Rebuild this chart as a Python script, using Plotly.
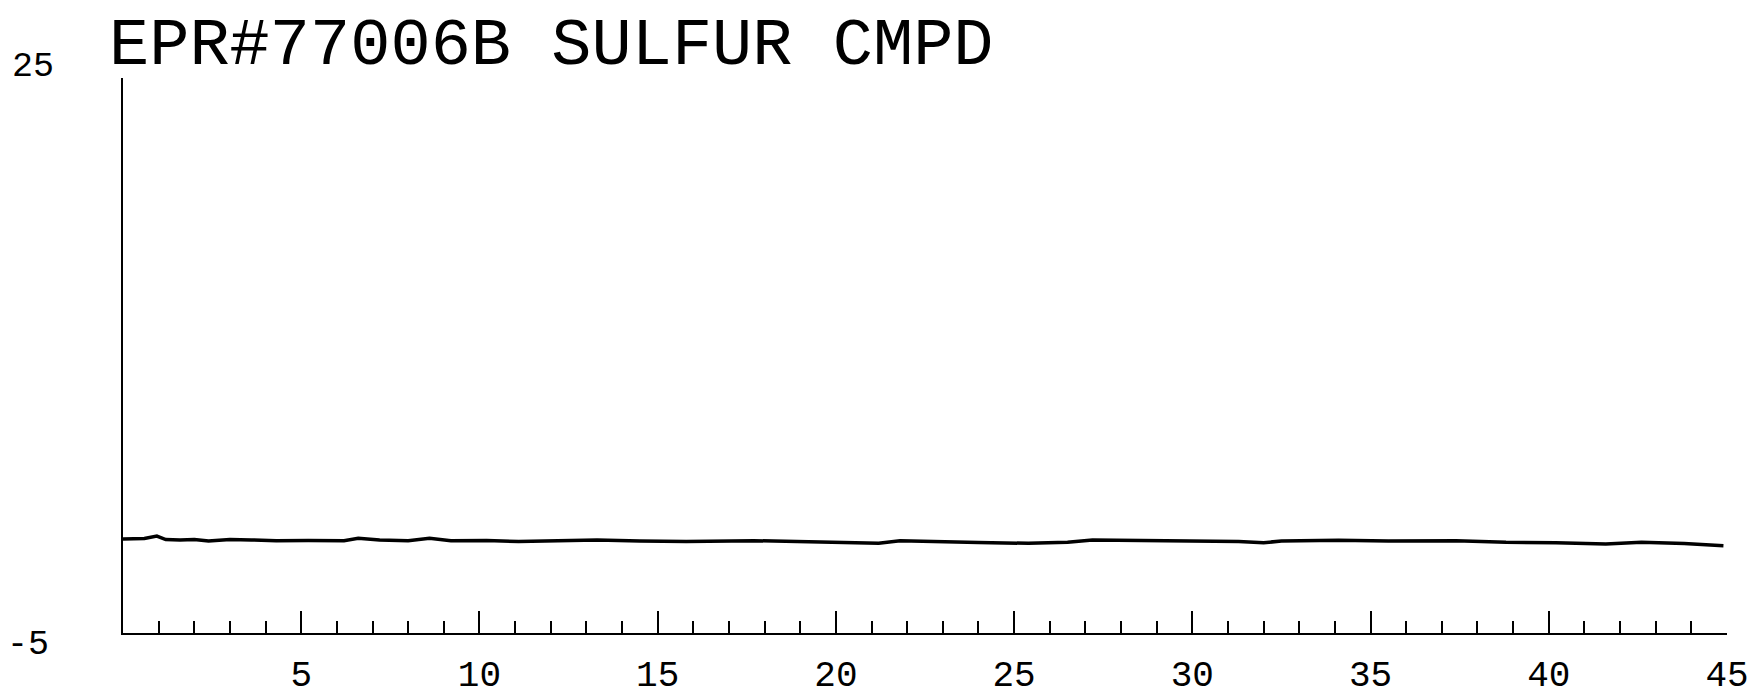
import plotly.graph_objects as go

title_text = "EPR#77006B SULFUR CMPD"

# trace values
x_vals = [0, 0.6, 0.95, 1.2, 1.6, 2.0, 2.4, 3.0, 3.6, 4.3, 5.2, 6.2, 6.6, 7.2, 8.0, 8.6,
          9.2, 10.2, 11.1, 12.2, 13.3, 14.5, 15.8, 17.7, 19.5, 21.2, 21.8, 22.8, 24.0,
          25.4, 26.5, 27.2, 28.3, 30.1, 31.3, 32.0, 32.5, 34.1, 35.5, 37.4, 38.8, 40.2,
          41.6, 42.6, 43.8, 44.9]
y_vals = [0.08, 0.11, 0.24, 0.05, 0.03, 0.05, -0.03, 0.06, 0.03, -0.01, 0.0, -0.01, 0.12,
          0.03, -0.01, 0.12, -0.01, 0.0, -0.06, -0.02, 0.03, -0.03, -0.06, -0.01, -0.07,
          -0.15, -0.01, -0.07, -0.11, -0.15, -0.10, 0.03, 0.01, -0.01, -0.05, -0.12, -0.03,
          0.01, -0.03, -0.01, -0.10, -0.12, -0.19, -0.10, -0.16, -0.28]

x_tick_vals = [5, 10, 15, 20, 25, 30, 35, 40, 45]
x_tick_text = ["5", "10", "15", "20", "25", "30", "35", "40", "45"]
y_range = [-5, 25]
x_range = [0, 45]
y_label_top = "25"
y_label_bottom = "-5"

FONT = "Liberation Mono"
W, H = 1754, 692  # page body has an 8px default margin

fig = go.Figure()
fig.add_trace(go.Scatter(x=x_vals, y=y_vals, mode="lines",
                         line=dict(color="black", width=3.5), showlegend=False,
                         hoverinfo="skip"))

fig.update_layout(
    template="none",
    width=W, height=H,
    margin=dict(l=115, r=35, t=70, b=67, pad=0, autoexpand=False),
    paper_bgcolor="white", plot_bgcolor="white",
    title=dict(text=title_text, x=101 / W, xanchor="left", xref="container",
               y=1 - 33 / H, yanchor="middle", yref="container",
               font=dict(family=FONT, size=67, color="black")),
    xaxis=dict(range=x_range, showgrid=False, zeroline=False, showline=True,
               automargin=False,
               linecolor="black", linewidth=2, ticks="inside", ticklen=22,
               tickwidth=2, tickcolor="black", tickmode="array",
               tickvals=x_tick_vals, ticktext=x_tick_text,
               ticklabelstandoff=8,
               tickfont=dict(family=FONT, size=36, color="black"),
               minor=dict(ticks="inside", ticklen=12, tickwidth=2,
                          tickcolor="black", tickmode="linear", tick0=0, dtick=1)),
    yaxis=dict(range=y_range, showgrid=False, zeroline=False, showline=True,
               automargin=False,
               linecolor="black", linewidth=2, ticks="", showticklabels=False),
    annotations=[
        dict(text=y_label_top, xref="paper", yref="y", x=-0.056, y=y_range[1],
             xanchor="center", yanchor="middle", yshift=11, showarrow=False,
             font=dict(family=FONT, size=35, color="black")),
        dict(text=y_label_bottom, xref="paper", yref="y", x=-0.059, y=y_range[0],
             xanchor="center", yanchor="middle", yshift=-12, showarrow=False,
             font=dict(family=FONT, size=35, color="black")),
    ],
)

fig.write_html("out.html")
